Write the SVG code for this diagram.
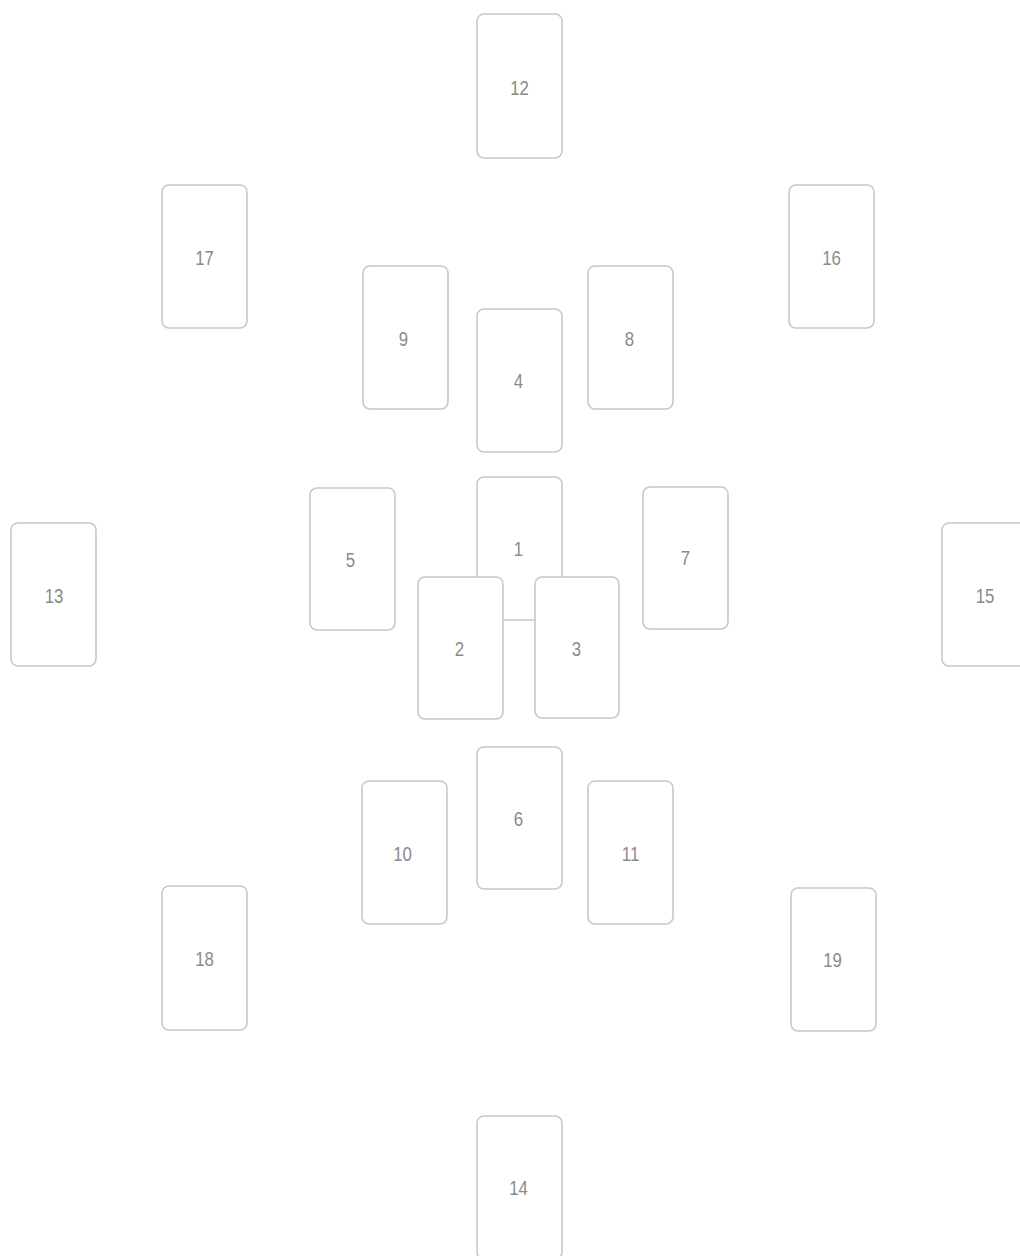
<svg xmlns="http://www.w3.org/2000/svg" width="1020" height="1256" viewBox="0 0 1020 1256">
<style>
.c rect{fill:#fff;stroke:#c8c8c8;stroke-width:1.6}
.c text{font-family:"Liberation Sans",sans-serif;font-size:21px;fill:#8a8a8a;text-anchor:middle;dominant-baseline:central}
</style>
<rect width="1020" height="1256" fill="#fff"/>
<g class="c" id="card12"><rect x="477" y="14" width="85" height="144" rx="7"/><text transform="translate(519.5 88) scale(0.8 1)">12</text></g>
<g class="c" id="card17"><rect x="162" y="185" width="85" height="143" rx="7"/><text transform="translate(204.5 258) scale(0.8 1)">17</text></g>
<g class="c" id="card16"><rect x="789" y="185" width="85" height="143" rx="7"/><text transform="translate(831.5 258) scale(0.8 1)">16</text></g>
<g class="c" id="card9"><rect x="363" y="266" width="85" height="143" rx="7"/><text transform="translate(403.5 339) scale(0.8 1)">9</text></g>
<g class="c" id="card8"><rect x="588" y="266" width="85" height="143" rx="7"/><text transform="translate(629.5 339) scale(0.8 1)">8</text></g>
<g class="c" id="card4"><rect x="477" y="309" width="85" height="143" rx="7"/><text transform="translate(518.5 381) scale(0.8 1)">4</text></g>
<g class="c" id="card5"><rect x="310" y="488" width="85" height="142" rx="7"/><text transform="translate(350.5 560) scale(0.8 1)">5</text></g>
<g class="c" id="card1"><rect x="477" y="477" width="85" height="143" rx="7"/><text transform="translate(518.5 549) scale(0.8 1)">1</text></g>
<g class="c" id="card7"><rect x="643" y="487" width="85" height="142" rx="7"/><text transform="translate(685.5 558) scale(0.8 1)">7</text></g>
<g class="c" id="card13"><rect x="11" y="523" width="85" height="143" rx="7"/><text transform="translate(54 596) scale(0.8 1)">13</text></g>
<g class="c" id="card15"><rect x="942" y="523" width="85" height="143" rx="7"/><text transform="translate(985 596) scale(0.8 1)">15</text></g>
<g class="c" id="card2"><rect x="418" y="577" width="85" height="142" rx="7"/><text transform="translate(459.5 649) scale(0.8 1)">2</text></g>
<g class="c" id="card3"><rect x="535" y="577" width="84" height="141" rx="7"/><text transform="translate(576.5 649) scale(0.8 1)">3</text></g>
<g class="c" id="card6"><rect x="477" y="747" width="85" height="142" rx="7"/><text transform="translate(518.5 819) scale(0.8 1)">6</text></g>
<g class="c" id="card10"><rect x="362" y="781" width="85" height="143" rx="7"/><text transform="translate(402.5 854) scale(0.8 1)">10</text></g>
<g class="c" id="card11"><rect x="588" y="781" width="85" height="143" rx="7"/><text transform="translate(630.5 854) scale(0.8 1)">11</text></g>
<g class="c" id="card18"><rect x="162" y="886" width="85" height="144" rx="7"/><text transform="translate(204.5 959) scale(0.8 1)">18</text></g>
<g class="c" id="card19"><rect x="791" y="888" width="85" height="143" rx="7"/><text transform="translate(832.5 960) scale(0.8 1)">19</text></g>
<g class="c" id="card14"><rect x="477" y="1116" width="85" height="143" rx="7"/><text transform="translate(518.5 1188) scale(0.8 1)">14</text></g>
<g id="connectors"/>
</svg>
